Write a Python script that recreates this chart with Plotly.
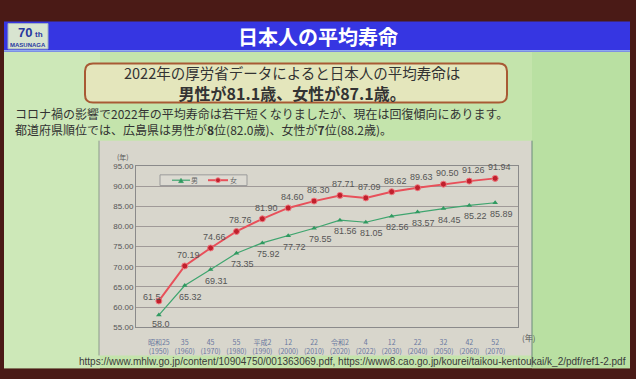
import plotly.graph_objects as go

W, H = 636, 379

# ---- data ----
era_labels = ["昭和25", "35", "45", "55", "平成2", "12", "22", "令和2", "4", "12", "22", "32", "42", "52"]
years = ["1950", "1960", "1970", "1980", "1990", "2000", "2010", "2020", "2022", "2030", "2040", "2050", "2060", "2070"]
male = [58.0, 65.32, 69.31, 73.35, 75.92, 77.72, 79.55, 81.56, 81.05, 82.56, 83.57, 84.45, 85.22, 85.89]
female = [61.5, 70.19, 74.66, 78.76, 81.90, 84.60, 86.30, 87.71, 87.09, 88.62, 89.63, 90.50, 91.26, 91.94]
male_text = ["58.0"] + [f"{v:.2f}" for v in male[1:]]
female_text = ["61.5"] + [f"{v:.2f}" for v in female[1:]]
cats = [f"{e}<br>({y})" for e, y in zip(era_labels, years)]

JP = "Noto Sans CJK JP"
MALE_C, FEMALE_C = "#3fa56f", "#e8505a"


def px(x):
    return x / W


def py(y):
    return 1 - y / H


fig = go.Figure()

fig.add_trace(go.Scatter(
    x=cats, y=male, name="男", mode="lines+markers",
    line=dict(color=MALE_C, width=1.2),
    marker=dict(symbol="triangle-up", size=5, color="#2f9a60"),
))
fig.add_trace(go.Scatter(
    x=cats, y=female, name="女", mode="lines+markers",
    line=dict(color=FEMALE_C, width=2),
    marker=dict(symbol="circle", size=6, color="#c0202c", line=dict(color="#f07880", width=1)),
))

annotations = []
for i, (c, v, t) in enumerate(zip(cats, male, male_text)):
    annotations.append(dict(x=c, y=v, xref="x", yref="y", text=t, showarrow=False,
                            xanchor="center", yanchor="middle",
                            xshift=6 if i else 2, yshift=-11 if i else -9,
                            font=dict(family="Liberation Sans", size=9, color="#555555")))
for i, (c, v, t) in enumerate(zip(cats, female, female_text)):
    annotations.append(dict(x=c, y=v, xref="x", yref="y", text=t, showarrow=False,
                            xanchor="center", yanchor="middle",
                            xshift=4 if i else -7, yshift=11 if i else 4,
                            font=dict(family="Liberation Sans", size=9, color="#555555")))


def note(x, y, text, size, color, family=JP, xanchor="center", align="center"):
    return dict(x=px(x), y=py(y), xref="paper", yref="paper", text=text, showarrow=False,
                xanchor=xanchor, yanchor="middle", align=align,
                font=dict(family=family, size=size, color=color))


annotations += [
    note(318, 33, "<b>日本人の平均寿命</b>", 20, "white"),
    note(25, 29, "<b>70</b>", 13, "#2838a0", family="Liberation Sans"),
    note(39, 31, "<b>th</b>", 8, "#2838a0", family="Liberation Sans"),
    note(28, 42, "<b>MASUNAGA</b>", 6, "#2838a0", family="Liberation Sans"),
    note(292, 81, "<span style='font-size:14.5px'>2022年の厚労省データによると日本人の平均寿命は</span><br>"
         "<b>男性が81.1歳、女性が87.1歳。</b>",
         16, "#333333"),
    note(13, 120, "コロナ禍の影響で2022年の平均寿命は若干短くなりましたが、現在は回復傾向にあります。<br>"
         "都道府県順位では、広島県は男性が<b>8</b>位(82.0歳)、女性が<b>7</b>位(88.2歳)。",
         12, "#333333", xanchor="left", align="left"),
    note(123, 157, "(年)", 7, "#555555"),
    note(528, 342, "(年)", 8, "#555555"),
    note(628, 366, "https://www.mhlw.go.jp/content/10904750/001363069.pdf, https://www8.cao.go.jp/kourei/taikou-kentoukai/k_2/pdf/ref1-2.pdf",
         10, "#3a3a3a", family="Liberation Sans", xanchor="right"),
    # legend labels
    note(194, 180.5, "男", 7, "#666666"),
    note(234, 180.5, "女", 7, "#666666"),
]


def rect(x0, y0, x1, y1, fill, line=None, lw=0, layer="below"):
    return dict(type="rect", xref="paper", yref="paper", x0=px(x0), x1=px(x1), y0=py(y1), y1=py(y0),
                fillcolor=fill, line=dict(color=line or fill, width=lw), layer=layer)


def rrect(x0, y0, x1, y1, r, fill, line, lw):
    rx, ry = r / W, r / H
    X0, X1, Y0, Y1 = px(x0), px(x1), py(y1), py(y0)
    path = (f"M {X0+rx},{Y0} L {X1-rx},{Y0} Q {X1},{Y0} {X1},{Y0+ry} L {X1},{Y1-ry} "
            f"Q {X1},{Y1} {X1-rx},{Y1} L {X0+rx},{Y1} Q {X0},{Y1} {X0},{Y1-ry} "
            f"L {X0},{Y0+ry} Q {X0},{Y0} {X0+rx},{Y0} Z")
    return dict(type="path", xref="paper", yref="paper", path=path, fillcolor=fill,
                line=dict(color=line, width=lw), layer="below")


def hline(x0, x1, y, color, w, layer="above"):
    return dict(type="line", xref="paper", yref="paper", x0=px(x0), x1=px(x1), y0=py(y), y1=py(y),
                line=dict(color=color, width=w), layer=layer)


shapes = [
    rect(0, 0, W, H, "#4a1a16"),
    rect(4, 49, 630, 373, "#c4e4ac"),
    rect(4, 49, 100, 373, "#cde8b8"),
    rect(532, 49, 630, 373, "#b9e0a2"),
    rect(4, 18, 630, 49, "#3636e2"),
    rect(4, 47, 630, 49, "#8fa8f0"),
    rect(8, 20, 48, 46, "#d8e4d0", "#a0b0c0", 1),
    rect(99, 140, 532, 360, "#d8d6cc"),
    dict(type="line", xref="paper", yref="paper", x0=px(99), x1=px(99), y0=py(360), y1=py(140),
         line=dict(color="#8a9a8a", width=1), layer="below"),
    dict(type="line", xref="paper", yref="paper", x0=px(532), x1=px(532), y0=py(372), y1=py(140),
         line=dict(color="#6a8a7a", width=1), layer="below"),
    rrect(85, 61, 507, 101, 8, "#e4e6bc", "#a85a34", 2),
    # custom legend box
    rect(160, 175, 247, 186, "#dcdad2", "#9a9a9a", 1, layer="above"),
    hline(172, 190, 180.5, MALE_C, 1.2),
    dict(type="path", xref="paper", yref="paper", layer="above",
         path=f"M {px(178.5)},{py(183)} L {px(183.5)},{py(183)} L {px(181)},{py(178.5)} Z",
         fillcolor="#2f9a60", line=dict(color="#2f9a60", width=0.5)),
    hline(208, 228, 180.5, FEMALE_C, 2),
    dict(type="circle", xref="paper", yref="paper", layer="above",
         x0=px(215.5), x1=px(220.5), y0=py(183), y1=py(178),
         fillcolor="#c0202c", line=dict(color="#f07880", width=1)),
]

fig.update_layout(
    width=W, height=H,
    margin=dict(l=0, r=0, t=0, b=0),
    paper_bgcolor="#4a1a16",
    plot_bgcolor="rgba(0,0,0,0)",
    shapes=shapes,
    annotations=annotations,
    showlegend=False,
    xaxis=dict(domain=[px(136), px(518)], type="category", showgrid=False,
               showline=True, linecolor="#8a8a8a", mirror=True, ticks="",
               ticklabelstandoff=8,
               tickfont=dict(family=JP, size=7, color="#6a78a0"), fixedrange=True),
    yaxis=dict(domain=[py(331), py(166)], range=[55, 95], dtick=5, tickformat=".2f",
               showgrid=True, gridcolor="#a09a98", gridwidth=1,
               showline=True, linecolor="#8a8a8a", mirror=True, ticks="",
               tickfont=dict(family="Liberation Sans", size=8, color="#555555"),
               zeroline=False, fixedrange=True),
)

fig.write_html("out.html", config={"displayModeBar": False},
               post_script="document.body.style.margin='0';document.body.style.overflow='hidden';")
